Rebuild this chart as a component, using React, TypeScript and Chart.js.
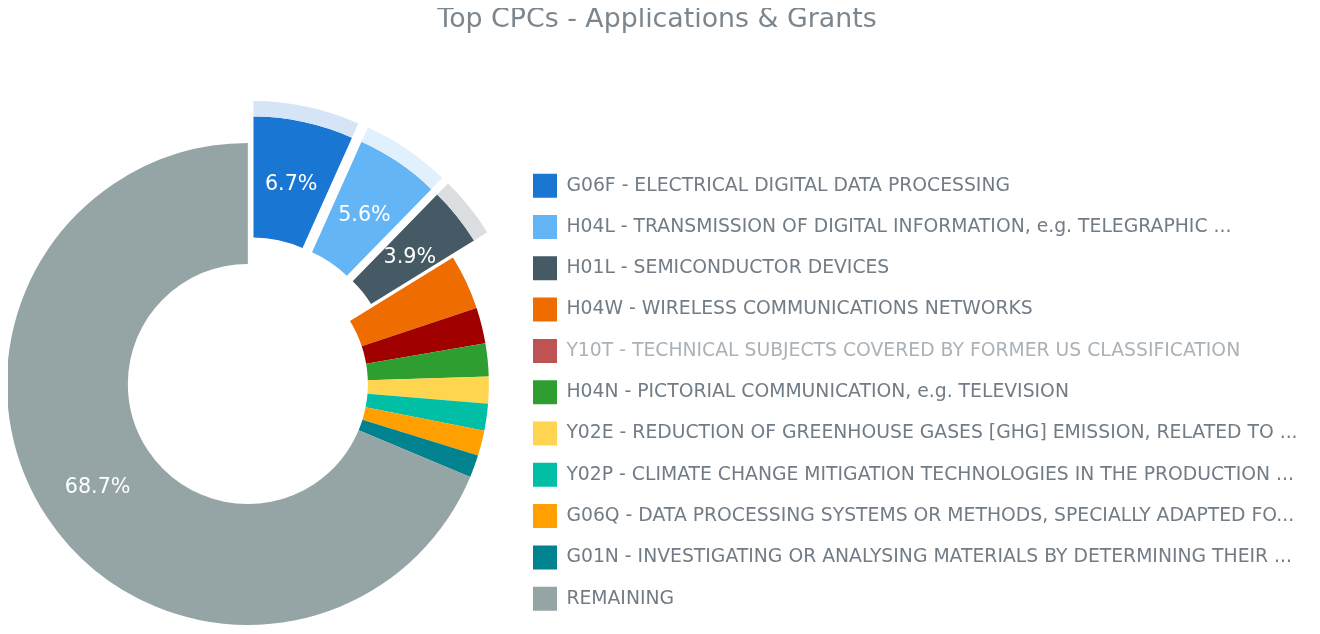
import { useEffect, useRef } from 'react';
import { Chart, DoughnutController, ArcElement, Legend } from 'chart.js';

Chart.register(DoughnutController, ArcElement, Legend);

const TITLE = 'Top CPCs - Applications & Grants';

const labels = [
  'G06F - ELECTRICAL DIGITAL DATA PROCESSING',
  'H04L - TRANSMISSION OF DIGITAL INFORMATION, e.g. TELEGRAPHIC ...',
  'H01L - SEMICONDUCTOR DEVICES',
  'H04W - WIRELESS COMMUNICATIONS NETWORKS',
  'Y10T - TECHNICAL SUBJECTS COVERED BY FORMER US CLASSIFICATION',
  'H04N - PICTORIAL COMMUNICATION, e.g. TELEVISION',
  'Y02E - REDUCTION OF GREENHOUSE GASES [GHG] EMISSION, RELATED TO ...',
  'Y02P - CLIMATE CHANGE MITIGATION TECHNOLOGIES IN THE PRODUCTION ...',
  'G06Q - DATA PROCESSING SYSTEMS OR METHODS, SPECIALLY ADAPTED FO...',
  'G01N - INVESTIGATING OR ANALYSING MATERIALS BY DETERMINING THEIR ...',
  'REMAINING',
];

const values = [6.7, 5.6, 3.9, 3.7, 2.4, 2.2, 1.8, 1.8, 1.7, 1.5, 68.7];

const colors = [
  '#1976d2', '#64b5f6', '#455a64', '#ef6c00', '#a00000', '#2e9e30',
  '#ffd54f', '#00bfa5', '#ffa000', '#00838f', '#95a5a6',
];

const ringColors = [
  '#d5e4f6', '#e0f0fd', '#dadee0', 'rgba(0,0,0,0)', 'rgba(0,0,0,0)', 'rgba(0,0,0,0)',
  'rgba(0,0,0,0)', 'rgba(0,0,0,0)', 'rgba(0,0,0,0)', 'rgba(0,0,0,0)', 'rgba(0,0,0,0)',
];

const explode = [27, 27, 27, 0, 0, 0, 0, 0, 0, 0, 0];
const fadedLegend = [false, false, false, false, true, false, false, false, false, false, false];
const LABEL_MIN_PCT = 3.8;

const FONT = '"DejaVu Sans", Verdana, sans-serif';
const LEGEND_SIZE = 18.8;
const LEGEND_PAD = 17.3;
const BOX = 24;
const LABEL_SIZE = 20.7;
const LABEL_DY = 3.5;
const TEXT_COLOR = '#717c86';
const FADED_TEXT = '#aab2b8';
const TITLE_COLOR = '#7b868f';

const CANVAS_SHIFT = -28;
const CANVAS_W = 1332;
const CANVAS_H = 620;

function fade(hex: string, a: number) {
  const n = parseInt(hex.slice(1), 16);
  return `rgba(${(n >> 16) & 255},${(n >> 8) & 255},${n & 255},${a})`;
}

const explodePlugin = {
  id: 'explodeSlices',
  beforeDatasetDraw(chart: any, args: any) {
    const ctx = chart.ctx;
    args.meta.data.forEach((arc: any, i: number) => {
      const off = explode[i] || 0;
      const mid = (arc.startAngle + arc.endAngle) / 2;
      ctx.save();
      ctx.translate(Math.cos(mid) * off, Math.sin(mid) * off);
      arc.draw(ctx);
      ctx.restore();
    });
    return false;
  },
};

const labelPlugin = {
  id: 'pctLabels',
  afterDatasetsDraw(chart: any) {
    const ctx = chart.ctx;
    const meta = chart.getDatasetMeta(1);
    const data = chart.data.datasets[1].data as number[];
    const total = data.reduce((a, b) => a + b, 0);
    ctx.save();
    ctx.font = `${LABEL_SIZE}px ${FONT}`;
    ctx.fillStyle = '#ffffff';
    ctx.textAlign = 'center';
    ctx.textBaseline = 'middle';
    meta.data.forEach((arc: any, i: number) => {
      const pct = (data[i] / total) * 100;
      if (pct < LABEL_MIN_PCT) return;
      const p = arc.tooltipPosition(false);
      const mid = (arc.startAngle + arc.endAngle) / 2;
      const off = explode[i] || 0;
      ctx.fillText(
        pct.toFixed(1) + '%',
        p.x + Math.cos(mid) * off,
        p.y + Math.sin(mid) * off + LABEL_DY,
      );
    });
    ctx.restore();
  },
};

export default function App() {
  const ref = useRef<HTMLCanvasElement>(null);

  useEffect(() => {
    const canvas = ref.current;
    if (!canvas) return;
    const m = document.createElement('canvas').getContext('2d')!;
    m.font = `${LEGEND_SIZE}px ${FONT}`;
    const tw = Math.max(...labels.map((t) => m.measureText(t).width));
    const legendLeft = 507.7 - CANVAS_SHIFT;
    const legendWidth = LEGEND_PAD + BOX + LEGEND_SIZE / 2 + tw + 10;
    const padRight = CANVAS_W - legendLeft - legendWidth;

    const chart = new Chart(canvas, {
      type: 'doughnut',
      data: {
        labels,
        datasets: [
          { data: values, backgroundColor: ringColors, borderWidth: 0, weight: 15.6 } as any,
          { data: values, backgroundColor: colors, borderWidth: 0, weight: 121 } as any,
        ],
      },
      options: {
        animation: false,
        responsive: true,
        maintainAspectRatio: false,
        events: [],
        radius: 256.6,
        cutout: '46.77%',
        layout: { padding: { left: 0, right: padRight, top: 132, bottom: 0 } },
        plugins: {
          legend: {
            position: 'right',
            align: 'end',
            maxWidth: 3000,
            labels: {
              boxWidth: BOX,
              boxHeight: BOX,
              padding: LEGEND_PAD,
              color: TEXT_COLOR,
              font: { size: LEGEND_SIZE, family: FONT },
              generateLabels: () =>
                labels.map((text, i) => ({
                  text,
                  fillStyle: fadedLegend[i] ? fade(colors[i], 0.68) : colors[i],
                  strokeStyle: 'rgba(0,0,0,0)',
                  lineWidth: 0,
                  hidden: false,
                  index: i,
                  fontColor: fadedLegend[i] ? FADED_TEXT : TEXT_COLOR,
                })),
            },
          },
        },
      } as any,
      plugins: [explodePlugin, labelPlugin],
    });
    return () => chart.destroy();
  }, []);

  return (
    <div style={{ position: 'relative', width: 1304, height: 618, overflow: 'hidden' }}>
      <div
        style={{
          position: 'absolute',
          left: CANVAS_SHIFT,
          top: 0,
          width: CANVAS_W,
          height: CANVAS_H,
        }}
      >
        <canvas ref={ref} />
      </div>
      <div
        style={{
          position: 'absolute',
          left: 0,
          top: -5.2,
          width: 1298,
          textAlign: 'center',
          font: `26.8px ${FONT}`,
          lineHeight: '30px',
          color: TITLE_COLOR,
          whiteSpace: 'nowrap',
          pointerEvents: 'none',
        }}
      >
        {TITLE}
      </div>
    </div>
  );
}
